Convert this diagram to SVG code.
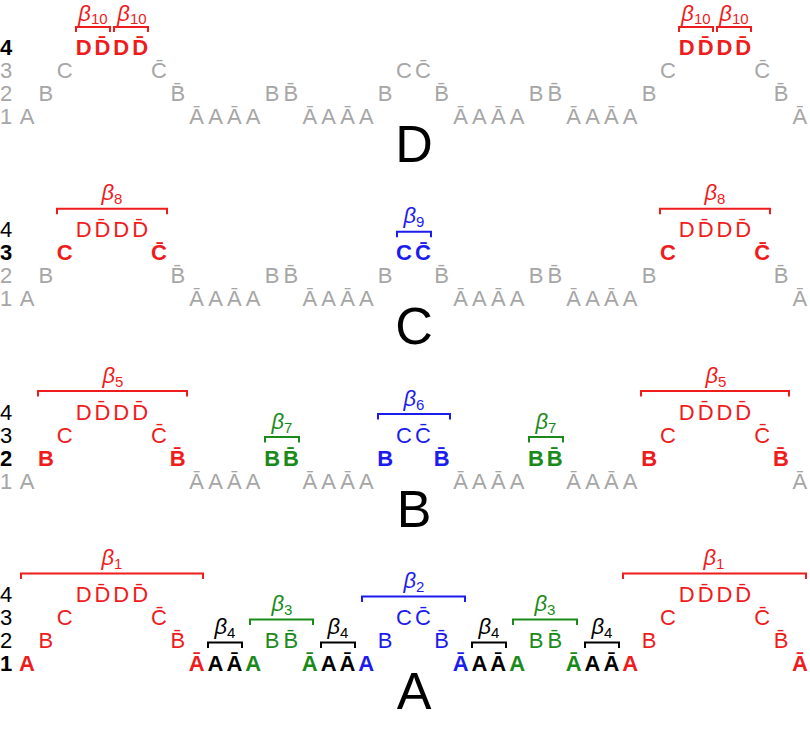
<svg xmlns="http://www.w3.org/2000/svg" width="810" height="729" viewBox="0 0 810 729">
<style>
text{font-family:"Liberation Sans",Arial,sans-serif;font-size:22px;text-anchor:middle}
.g{fill:#a6a6a6}.r{fill:#ee1c1c}.gr{fill:#1a8a1a}.bl{fill:#1c1cee}.k{fill:#000}
.b{font-weight:bold}
.lab{font-size:52px}
.beta{font-size:22px;font-style:italic}
.sub{font-size:15px;font-style:normal}
.br{fill:none;stroke-width:2}
.sr{stroke:#ee1c1c}.sg{stroke:#1a8a1a}.sb{stroke:#1c1cee}.sk{stroke:#000}
</style>

<!-- Panel D -->
<g id="panel-D">
<g id="D-rows">
<text x="6" y="55" class="k b">4</text><text x="6" y="78" class="g">3</text><text x="6" y="101" class="g">2</text><text x="6" y="124" class="g">1</text>
</g>
<g id="D-letters">
<text x="27" y="124" class="g">A</text>
<text x="45.9" y="101" class="g">B</text>
<text x="64.7" y="78" class="g">C</text>
<text x="83.6" y="55" class="r b">D</text>
<text x="102.4" y="55" class="r b">D̄</text>
<text x="121.3" y="55" class="r b">D</text>
<text x="140.1" y="55" class="r b">D̄</text>
<text x="159" y="78" class="g">C̄</text>
<text x="177.8" y="101" class="g">B̄</text>
<text x="196.7" y="124" class="g">Ā</text>
<text x="215.5" y="124" class="g">A</text>
<text x="234.4" y="124" class="g">Ā</text>
<text x="253.2" y="124" class="g">A</text>
<text x="272.1" y="101" class="g">B</text>
<text x="290.9" y="101" class="g">B̄</text>
<text x="309.8" y="124" class="g">Ā</text>
<text x="328.6" y="124" class="g">A</text>
<text x="347.5" y="124" class="g">Ā</text>
<text x="366.3" y="124" class="g">A</text>
<text x="385.2" y="101" class="g">B</text>
<text x="404" y="78" class="g">C</text>
<text x="422.9" y="78" class="g">C̄</text>
<text x="441.7" y="101" class="g">B̄</text>
<text x="460.6" y="124" class="g">Ā</text>
<text x="479.4" y="124" class="g">A</text>
<text x="498.3" y="124" class="g">Ā</text>
<text x="517.1" y="124" class="g">A</text>
<text x="536" y="101" class="g">B</text>
<text x="554.8" y="101" class="g">B̄</text>
<text x="573.7" y="124" class="g">Ā</text>
<text x="592.5" y="124" class="g">A</text>
<text x="611.4" y="124" class="g">Ā</text>
<text x="630.2" y="124" class="g">A</text>
<text x="649.1" y="101" class="g">B</text>
<text x="667.9" y="78" class="g">C</text>
<text x="686.8" y="55" class="r b">D</text>
<text x="705.6" y="55" class="r b">D̄</text>
<text x="724.5" y="55" class="r b">D</text>
<text x="743.3" y="55" class="r b">D̄</text>
<text x="762.2" y="78" class="g">C̄</text>
<text x="781" y="101" class="g">B̄</text>
<text x="799.9" y="124" class="g">Ā</text>
</g>
<g id="D-brackets">
<path class="br sr" d="M76,32V27H110V32M114,32V27H148V32M679,32V27H713V32M717,32V27H751V32"/>
<text x="93" y="20.5" class="beta r">β<tspan class="sub" dy="3">10</tspan></text>
<text x="132" y="20.5" class="beta r">β<tspan class="sub" dy="3">10</tspan></text>
<text x="696" y="20.5" class="beta r">β<tspan class="sub" dy="3">10</tspan></text>
<text x="734" y="20.5" class="beta r">β<tspan class="sub" dy="3">10</tspan></text>
</g>
<text x="414" y="162" class="k lab">D</text>
</g>

<!-- Panel C -->
<g id="panel-C" transform="translate(0,182.3)">
<g id="C-rows">
<text x="6" y="55" class="k">4</text><text x="6" y="78" class="k b">3</text><text x="6" y="101" class="g">2</text><text x="6" y="124" class="g">1</text>
</g>
<g id="C-letters">
<text x="27" y="124" class="g">A</text>
<text x="45.9" y="101" class="g">B</text>
<text x="64.7" y="78" class="r b">C</text>
<text x="83.6" y="55" class="r">D</text>
<text x="102.4" y="55" class="r">D̄</text>
<text x="121.3" y="55" class="r">D</text>
<text x="140.1" y="55" class="r">D̄</text>
<text x="159" y="78" class="r b">C̄</text>
<text x="177.8" y="101" class="g">B̄</text>
<text x="196.7" y="124" class="g">Ā</text>
<text x="215.5" y="124" class="g">A</text>
<text x="234.4" y="124" class="g">Ā</text>
<text x="253.2" y="124" class="g">A</text>
<text x="272.1" y="101" class="g">B</text>
<text x="290.9" y="101" class="g">B̄</text>
<text x="309.8" y="124" class="g">Ā</text>
<text x="328.6" y="124" class="g">A</text>
<text x="347.5" y="124" class="g">Ā</text>
<text x="366.3" y="124" class="g">A</text>
<text x="385.2" y="101" class="g">B</text>
<text x="404" y="78" class="bl b">C</text>
<text x="422.9" y="78" class="bl b">C̄</text>
<text x="441.7" y="101" class="g">B̄</text>
<text x="460.6" y="124" class="g">Ā</text>
<text x="479.4" y="124" class="g">A</text>
<text x="498.3" y="124" class="g">Ā</text>
<text x="517.1" y="124" class="g">A</text>
<text x="536" y="101" class="g">B</text>
<text x="554.8" y="101" class="g">B̄</text>
<text x="573.7" y="124" class="g">Ā</text>
<text x="592.5" y="124" class="g">A</text>
<text x="611.4" y="124" class="g">Ā</text>
<text x="630.2" y="124" class="g">A</text>
<text x="649.1" y="101" class="g">B</text>
<text x="667.9" y="78" class="r b">C</text>
<text x="686.8" y="55" class="r">D</text>
<text x="705.6" y="55" class="r">D̄</text>
<text x="724.5" y="55" class="r">D</text>
<text x="743.3" y="55" class="r">D̄</text>
<text x="762.2" y="78" class="r b">C̄</text>
<text x="781" y="101" class="g">B̄</text>
<text x="799.9" y="124" class="g">Ā</text>
</g>
<g id="C-brackets">
<path class="br sr" d="M57,32V26.5H167V32M660,32V26.5H770V32"/>
<path class="br sb" d="M397,55V49.5H431V55"/>
<text x="112" y="18" class="beta r">β<tspan class="sub" dy="4">8</tspan></text>
<text x="715" y="18" class="beta r">β<tspan class="sub" dy="4">8</tspan></text>
<text x="414" y="41" class="beta bl">β<tspan class="sub" dy="4">9</tspan></text>
</g>
<text x="414" y="162" class="k lab">C</text>
</g>

<!-- Panel B -->
<g id="panel-B" transform="translate(0,364.6)">
<g id="B-rows">
<text x="6" y="55" class="k">4</text><text x="6" y="78" class="k">3</text><text x="6" y="101" class="k b">2</text><text x="6" y="124" class="g">1</text>
</g>
<g id="B-letters">
<text x="27" y="124" class="g">A</text>
<text x="45.9" y="101" class="r b">B</text>
<text x="64.7" y="78" class="r">C</text>
<text x="83.6" y="55" class="r">D</text>
<text x="102.4" y="55" class="r">D̄</text>
<text x="121.3" y="55" class="r">D</text>
<text x="140.1" y="55" class="r">D̄</text>
<text x="159" y="78" class="r">C̄</text>
<text x="177.8" y="101" class="r b">B̄</text>
<text x="196.7" y="124" class="g">Ā</text>
<text x="215.5" y="124" class="g">A</text>
<text x="234.4" y="124" class="g">Ā</text>
<text x="253.2" y="124" class="g">A</text>
<text x="272.1" y="101" class="gr b">B</text>
<text x="290.9" y="101" class="gr b">B̄</text>
<text x="309.8" y="124" class="g">Ā</text>
<text x="328.6" y="124" class="g">A</text>
<text x="347.5" y="124" class="g">Ā</text>
<text x="366.3" y="124" class="g">A</text>
<text x="385.2" y="101" class="bl b">B</text>
<text x="404" y="78" class="bl">C</text>
<text x="422.9" y="78" class="bl">C̄</text>
<text x="441.7" y="101" class="bl b">B̄</text>
<text x="460.6" y="124" class="g">Ā</text>
<text x="479.4" y="124" class="g">A</text>
<text x="498.3" y="124" class="g">Ā</text>
<text x="517.1" y="124" class="g">A</text>
<text x="536" y="101" class="gr b">B</text>
<text x="554.8" y="101" class="gr b">B̄</text>
<text x="573.7" y="124" class="g">Ā</text>
<text x="592.5" y="124" class="g">A</text>
<text x="611.4" y="124" class="g">Ā</text>
<text x="630.2" y="124" class="g">A</text>
<text x="649.1" y="101" class="r b">B</text>
<text x="667.9" y="78" class="r">C</text>
<text x="686.8" y="55" class="r">D</text>
<text x="705.6" y="55" class="r">D̄</text>
<text x="724.5" y="55" class="r">D</text>
<text x="743.3" y="55" class="r">D̄</text>
<text x="762.2" y="78" class="r">C̄</text>
<text x="781" y="101" class="r b">B̄</text>
<text x="799.9" y="124" class="g">Ā</text>
</g>
<g id="B-brackets">
<path class="br sr" d="M38,32V26.5H187V32M641,32V26.5H789V32"/>
<path class="br sg" d="M265,78V72.5H299V78M529,78V72.5H563V78"/>
<path class="br sb" d="M378,55V49.5H450V55"/>
<text x="113" y="18" class="beta r">β<tspan class="sub" dy="4">5</tspan></text>
<text x="716" y="18" class="beta r">β<tspan class="sub" dy="4">5</tspan></text>
<text x="282" y="64" class="beta gr">β<tspan class="sub" dy="4">7</tspan></text>
<text x="546" y="64" class="beta gr">β<tspan class="sub" dy="4">7</tspan></text>
<text x="414" y="41" class="beta bl">β<tspan class="sub" dy="4">6</tspan></text>
</g>
<text x="414" y="162" class="k lab">B</text>
</g>

<!-- Panel A -->
<g id="panel-A" transform="translate(0,547)">
<g id="A-rows">
<text x="6" y="55" class="k">4</text><text x="6" y="78" class="k">3</text><text x="6" y="101" class="k">2</text><text x="6" y="124" class="k b">1</text>
</g>
<g id="A-letters">
<text x="27" y="124" class="r b">A</text>
<text x="45.9" y="101" class="r">B</text>
<text x="64.7" y="78" class="r">C</text>
<text x="83.6" y="55" class="r">D</text>
<text x="102.4" y="55" class="r">D̄</text>
<text x="121.3" y="55" class="r">D</text>
<text x="140.1" y="55" class="r">D̄</text>
<text x="159" y="78" class="r">C̄</text>
<text x="177.8" y="101" class="r">B̄</text>
<text x="196.7" y="124" class="r b">Ā</text>
<text x="215.5" y="124" class="k b">A</text>
<text x="234.4" y="124" class="k b">Ā</text>
<text x="253.2" y="124" class="gr b">A</text>
<text x="272.1" y="101" class="gr">B</text>
<text x="290.9" y="101" class="gr">B̄</text>
<text x="309.8" y="124" class="gr b">Ā</text>
<text x="328.6" y="124" class="k b">A</text>
<text x="347.5" y="124" class="k b">Ā</text>
<text x="366.3" y="124" class="bl b">A</text>
<text x="385.2" y="101" class="bl">B</text>
<text x="404" y="78" class="bl">C</text>
<text x="422.9" y="78" class="bl">C̄</text>
<text x="441.7" y="101" class="bl">B̄</text>
<text x="460.6" y="124" class="bl b">Ā</text>
<text x="479.4" y="124" class="k b">A</text>
<text x="498.3" y="124" class="k b">Ā</text>
<text x="517.1" y="124" class="gr b">A</text>
<text x="536" y="101" class="gr">B</text>
<text x="554.8" y="101" class="gr">B̄</text>
<text x="573.7" y="124" class="gr b">Ā</text>
<text x="592.5" y="124" class="k b">A</text>
<text x="611.4" y="124" class="k b">Ā</text>
<text x="630.2" y="124" class="r b">A</text>
<text x="649.1" y="101" class="r">B</text>
<text x="667.9" y="78" class="r">C</text>
<text x="686.8" y="55" class="r">D</text>
<text x="705.6" y="55" class="r">D̄</text>
<text x="724.5" y="55" class="r">D</text>
<text x="743.3" y="55" class="r">D̄</text>
<text x="762.2" y="78" class="r">C̄</text>
<text x="781" y="101" class="r">B̄</text>
<text x="799.9" y="124" class="r b">Ā</text>
</g>
<g id="A-brackets">
<path class="br sr" d="M21,32V26.5H203V32M623,32V26.5H806V32"/>
<path class="br sk" d="M208,101V95.5H242V101M321,101V95.5H355V101M472,101V95.5H506V101M585,101V95.5H619V101"/>
<path class="br sg" d="M250,78V72.5H313V78M513,78V72.5H577V78"/>
<path class="br sb" d="M362,55V49.5H465V55"/>
<text x="112" y="18" class="beta r">β<tspan class="sub" dy="4">1</tspan></text>
<text x="714" y="18" class="beta r">β<tspan class="sub" dy="4">1</tspan></text>
<text x="414" y="41" class="beta bl">β<tspan class="sub" dy="4">2</tspan></text>
<text x="282" y="64" class="beta gr">β<tspan class="sub" dy="4">3</tspan></text>
<text x="545" y="64" class="beta gr">β<tspan class="sub" dy="4">3</tspan></text>
<text x="225" y="87" class="beta k">β<tspan class="sub" dy="4">4</tspan></text>
<text x="338" y="87" class="beta k">β<tspan class="sub" dy="4">4</tspan></text>
<text x="489" y="87" class="beta k">β<tspan class="sub" dy="4">4</tspan></text>
<text x="602" y="87" class="beta k">β<tspan class="sub" dy="4">4</tspan></text>
</g>
<text x="414" y="162" class="k lab">A</text>
</g>
</svg>
